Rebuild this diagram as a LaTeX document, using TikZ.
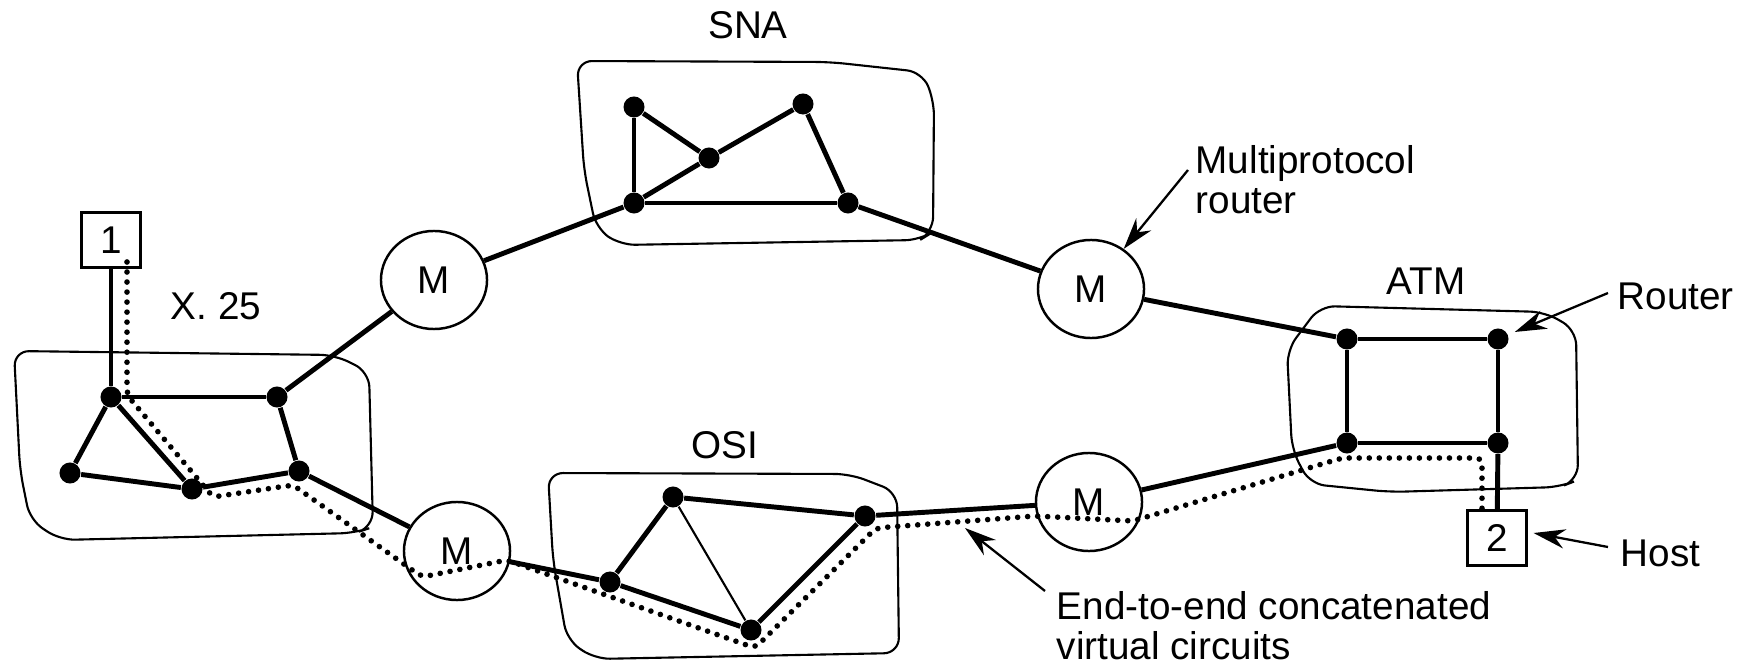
\documentclass[tikz,border=0pt]{standalone}
\usepackage{fontspec}
\setmainfont{Liberation Sans}
\usetikzlibrary{shapes.geometric,arrows.meta,calc}
\tikzset{
  rt/.style={circle, fill=black, inner sep=0pt, minimum size=0.21cm},
  mux/.style={ellipse, draw, line width=0.7pt, inner sep=0pt, minimum width=1.06cm, minimum height=0.98cm, font=\fontsize{11}{11.4}\selectfont},
  hostbox/.style={rectangle, draw, line width=0.6pt, inner sep=0pt, minimum width=0.59cm, minimum height=0.55cm, font=\fontsize{11}{11.4}\selectfont},
  lnk/.style={line width=1.4pt},
  thinlnk/.style={line width=0.6pt},
  blob/.style={line width=0.6pt, rounded corners=0.15cm},
  vc/.style={line width=1.6pt, dash pattern=on 0pt off 2.85pt, line cap=round, rounded corners=0.06cm},
  arr/.style={line width=0.65pt, -{Stealth[length=9pt,width=5.5pt]}},
  lbl/.style={inner sep=0pt, font=\fontsize{11}{11.4}\selectfont},
}
\begin{document}
\begin{tikzpicture}[x=0.01cm, y=-0.01cm]
\useasboundingbox (0,0) rectangle (1751,667);

% network clouds
\draw[blob] (14,351) -- (335,355) -- (369,372) -- (373,527) -- (355,533) -- (60,540) -- (30,520) -- (20,470) -- cycle;
\draw[blob] (577,61) -- (830,62) -- (922,72) -- (934,100) -- (933,232) -- (920,240) -- (620,245) -- (596,228) -- (584,170) -- cycle;
\draw[blob] (548,473) -- (850,474) -- (897,492) -- (899,653) -- (595,659) -- (567,640) -- (553,560) -- cycle;
\draw[blob] (1320,306) -- (1545,312) -- (1576,330) -- (1578,480) -- (1560,487) -- (1390,492) -- (1310,484) -- (1292,450) -- (1287,350) -- cycle;

% labels
\node[lbl] (lsna) at (748,25) {SNA};
\node[lbl] (lx25) at (216,306) {X. 25};
\node[lbl] (losi) at (725,445) {OSI};
\node[lbl] (latm) at (1426,281) {ATM};
\node[lbl, anchor=north west, align=left] (lmp) at (1195,145) {Multiprotocol\\router};
\node[lbl, anchor=west] (lrouter) at (1617,296) {Router};
\node[lbl, anchor=west] (lhost) at (1620,553) {Host};
\node[lbl, anchor=north west, align=left] (lvc) at (1056,591) {End-to-end concatenated\\virtual circuits};

% hosts
\node[hostbox] (h1) at (111,240) {1};
\node[hostbox] (h2) at (1497,538) {2};

% multiprotocol routers
\node[mux] (M1) at (434,280) {M};
\node[mux] (M2) at (1091,289) {M};
\node[mux] (M3) at (457,551) {M};
\node[mux] (M4) at (1089,502) {M};

% X.25 routers
\node[rt] (A) at (111,397) {};
\node[rt] (B) at (277,397) {};
\node[rt] (C) at (70,473) {};
\node[rt] (D) at (192,489) {};
\node[rt] (E) at (299,471) {};
% SNA routers
\node[rt] (J) at (634,107) {};
\node[rt] (K) at (709,158) {};
\node[rt] (L) at (803,104) {};
\node[rt] (N) at (634,203) {};
\node[rt] (O) at (848,203) {};
% OSI routers
\node[rt] (F) at (610,582) {};
\node[rt] (G) at (673,497) {};
\node[rt] (H) at (751,630) {};
\node[rt] (I) at (865,516) {};
% ATM routers
\node[rt] (P) at (1347,339) {};
\node[rt] (Q) at (1498,339) {};
\node[rt] (R) at (1347,443) {};
\node[rt] (S) at (1498,443) {};

% links
\draw[lnk] (h1) -- (A);
\draw[lnk] (A) -- (B);
\draw[lnk] (A) -- (C);
\draw[lnk] (A) -- (D);
\draw[lnk] (C) -- (D);
\draw[lnk] (D) -- (E);
\draw[lnk] (B) -- (E);
\draw[lnk] (B) -- (M1);
\draw[lnk] (E) -- (M3);
\draw[lnk] (M1) -- (N);
\draw[lnk] (J) -- (N);
\draw[lnk] (J) -- (K);
\draw[lnk] (N) -- (K);
\draw[lnk] (K) -- (L);
\draw[lnk] (L) -- (O);
\draw[lnk] (N) -- (O);
\draw[lnk] (O) -- (M2);
\draw[lnk] (M2) -- (P);
\draw[lnk] (M3) -- (F);
\draw[lnk] (F) -- (G);
\draw[lnk] (G) -- (I);
\draw[thinlnk] (G) -- (H);
\draw[lnk] (F) -- (H);
\draw[lnk] (H) -- (I);
\draw[lnk] (I) -- (M4);
\draw[lnk] (M4) -- (R);
\draw[lnk] (P) -- (Q);
\draw[lnk] (P) -- (R);
\draw[lnk] (Q) -- (S);
\draw[lnk] (R) -- (S);
\draw[lnk] (S) -- (h2);

% end-to-end virtual circuit
\coordinate (v0) at (127,262);
\coordinate (v1) at (127,395);
\coordinate (v2) at (213,497);
\coordinate (v3) at (293,485);
\coordinate (v4) at (422,577);
\coordinate (v5) at (507,560);
\coordinate (v6) at (755,648);
\coordinate (v7) at (876,528);
\coordinate (v8) at (1035,516);
\coordinate (v9) at (1133,521);
\coordinate (v10) at (1342,458);
\coordinate (v11) at (1482,458);
\coordinate (v12) at (1482,510);
\draw[vc] (v0) -- (v1) -- (v2) -- (v3) -- (v4) -- (v5) -- (v6) -- (v7) -- (v8) -- (v9) -- (v10) -- (v11) -- (v12);

% callout arrows
\coordinate (tmp) at (1188,170);
\coordinate (trouter) at (1608,293);
\coordinate (thost) at (1608,547);
\coordinate (tvc) at (1045,591);
\coordinate (hvc) at (965,528);
\draw[arr] (tmp) -- (M2);
\draw[arr, shorten >=2pt] (trouter) -- (Q);
\draw[arr] (thost) -- ($(h2.east)+(6,-5)$);
\draw[arr] (tvc) -- (hvc);
\end{tikzpicture}
\end{document}
